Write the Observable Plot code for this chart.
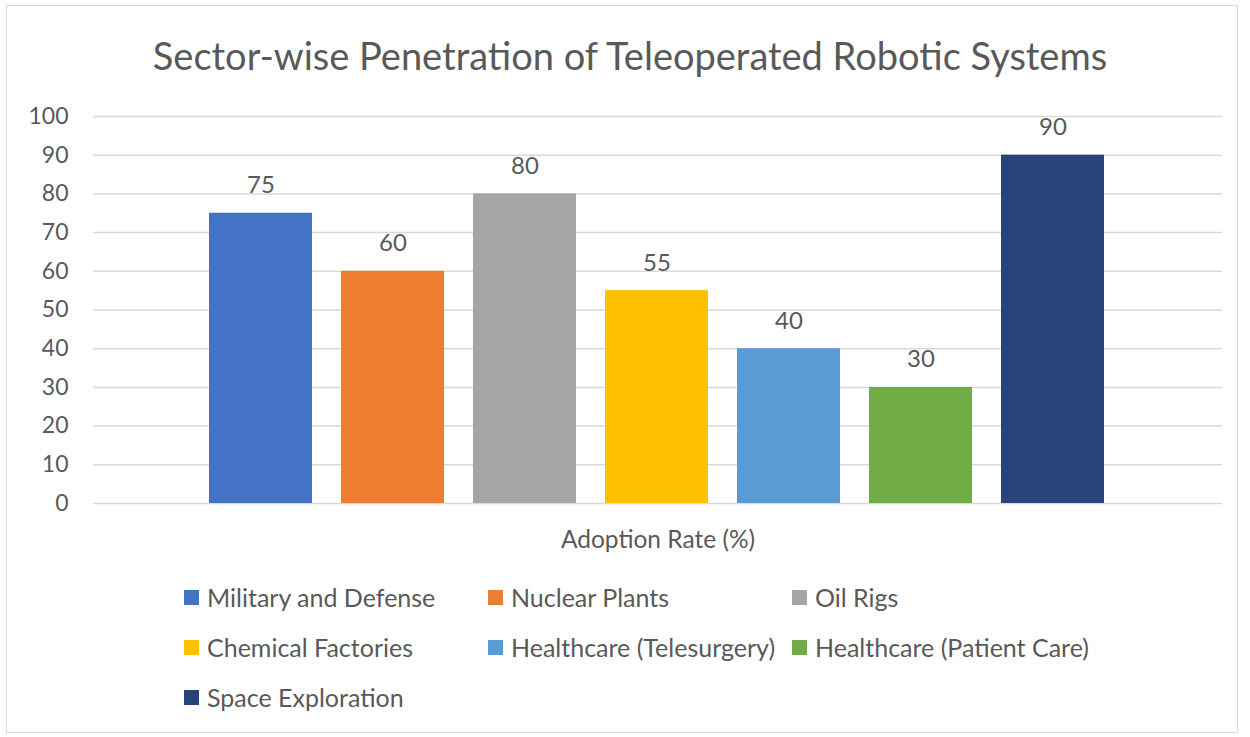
<!DOCTYPE html>
<html>
<head>
<meta charset="utf-8">
<script src="https://cdn.jsdelivr.net/npm/d3@7"></script>
<script src="https://cdn.jsdelivr.net/npm/@observablehq/plot@0.6"></script>
<style>
  body { margin: 0; background: #fff; font-family: Lato, "Open Sans", sans-serif; color: #595959; }
  #wrap { position: relative; width: 1250px; height: 737px; overflow: hidden; }
  #frame { position: absolute; left: 6px; top: 5px; width: 1232px; height: 728px; border: 1.5px solid #d9d9d9; box-sizing: border-box; }
  #title { position: absolute; left: 10px; top: 30px; width: 1240px; text-align: center; font-size: 38px; line-height: 50px; color: #595959; white-space: nowrap; }
  #chart { position: absolute; left: 0; top: 90px; }
  #legend { position: absolute; left: 0; top: 572px; width: 1250px; }
  .item { position: absolute; display: flex; align-items: center; font-size: 25px; line-height: 30px; white-space: nowrap; color: #595959; }
  .sw { width: 15px; height: 15px; margin-right: 8px; flex: none; }
</style>
</head>
<body>
<div id="wrap">
  <div id="frame"></div>
  <div id="title"></div>
  <div id="chart"></div>
  <div id="legend"></div>
</div>
<script>
const titleText = "Sector-wise Penetration of Teleoperated Robotic Systems";
const categories = ["Adoption Rate (%)"];
const series = [
  "Military and Defense",
  "Nuclear Plants",
  "Oil Rigs",
  "Chemical Factories",
  "Healthcare (Telesurgery)",
  "Healthcare (Patient Care)",
  "Space Exploration"
];
const values = [75, 60, 80, 55, 40, 30, 90];
const colors = ["#4472C4", "#ED7D31", "#A5A5A5", "#FFC000", "#5B9BD5", "#70AD47", "#264478"];
const yTicks = [0, 10, 20, 30, 40, 50, 60, 70, 80, 90, 100];

const data = series.map((s, i) => ({series: s, value: values[i], category: categories[0]}));

document.getElementById("title").textContent = titleText;

const plot = Plot.plot({
  width: 1250,
  height: 470,
  marginTop: 26,
  marginBottom: 57,
  marginLeft: 93,
  marginRight: 28,
  style: {fontFamily: "Lato, 'Open Sans', sans-serif", fontSize: "23px", color: "#595959", background: "transparent"},
  x: {type: "band", domain: series, range: [207, 1107], paddingInner: 0.218, paddingOuter: 0, axis: null},
  y: {domain: [0, 100], axis: null},
  color: {domain: series, range: colors},
  marks: [
    Plot.ruleY(yTicks, {y: d => d, stroke: "#d9d9d9", strokeWidth: 1.5}),
    Plot.axisY({ticks: yTicks, tickSize: 0, tickPadding: 25, label: null, fontSize: 23}),
    Plot.barY(data, {x: "series", y: "value", fill: "series"}),
    Plot.text(data, {x: "series", y: "value", text: d => String(d.value), lineAnchor: "bottom", dy: -20, fontSize: 24, fill: "#595959"}),
    Plot.text(categories, {text: d => d, frameAnchor: "bottom", dy: 44, fontSize: 24.5, fill: "#595959", x: null})
  ]
});
document.getElementById("chart").appendChild(plot);

const legend = document.getElementById("legend");
const colX = [184, 488, 792];
series.forEach((s, i) => {
  const item = document.createElement("div");
  item.className = "item";
  item.style.left = colX[i % 3] + "px";
  item.style.top = (Math.floor(i / 3) * 50 + 10) + "px";
  const sw = document.createElement("span");
  sw.className = "sw";
  sw.style.background = colors[i];
  const t = document.createElement("span");
  t.textContent = s;
  item.appendChild(sw);
  item.appendChild(t);
  legend.appendChild(item);
});
</script>
</body>
</html>
